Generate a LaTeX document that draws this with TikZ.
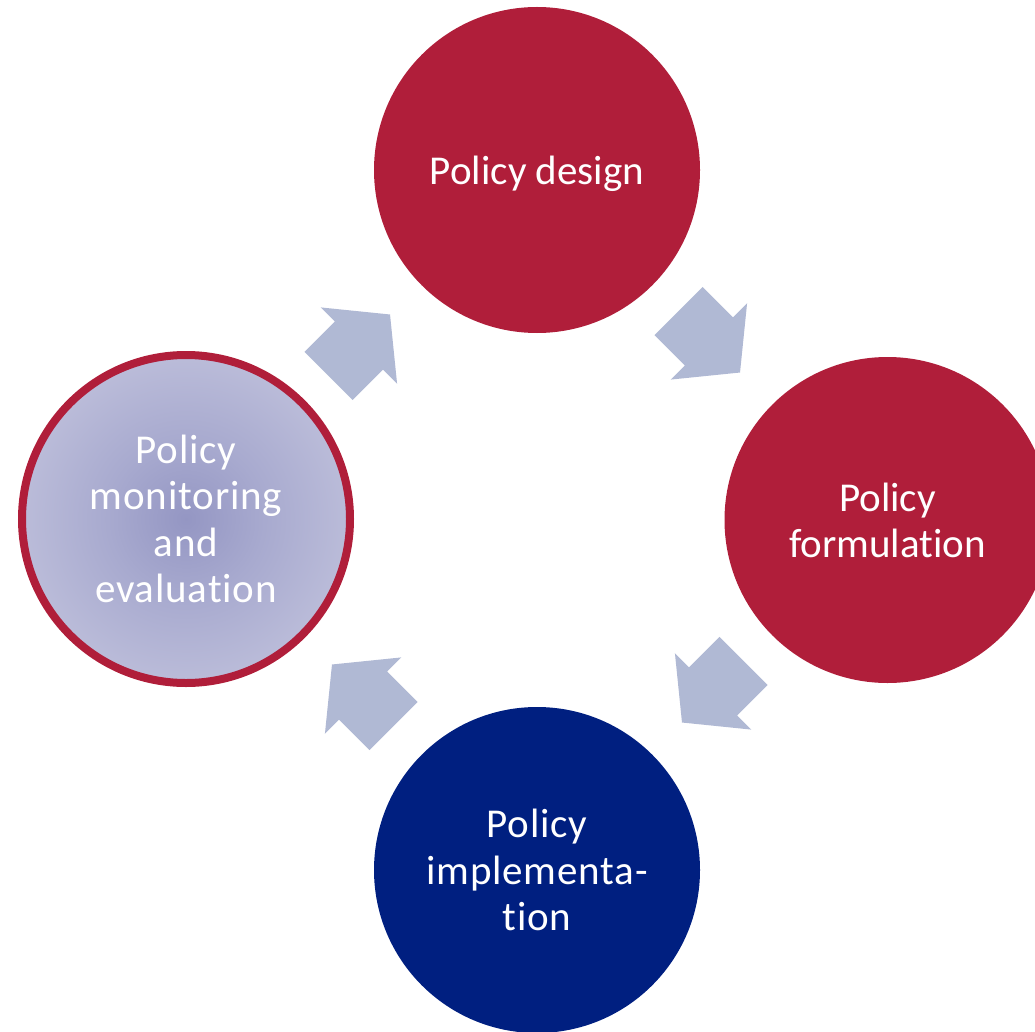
\documentclass[tikz,border=0pt]{standalone}
\usepackage{fontspec}
\setmainfont{Carlito}[Ligatures=NoCommon]
\newfontfamily\spacedfont{Carlito}[Ligatures=NoCommon,LetterSpace=2]
\definecolor{polred}{HTML}{B01E3A}
\definecolor{polnavy}{HTML}{001F80}
\definecolor{arrowblue}{HTML}{B0B9D4}
\definecolor{lvin}{HTML}{9496C3}
\definecolor{lvmida}{HTML}{A8AACF}
\definecolor{lvmidb}{HTML}{C2C3DD}
\definecolor{lvout}{HTML}{D3D4E8}
\pgfdeclareradialshading{lavglow}{\pgfpoint{0bp}{0bp}}{color(0bp)=(lvin); color(12bp)=(lvmida); color(30bp)=(lvmidb); color(50bp)=(lvout)}
\begin{document}
\begin{tikzpicture}[x=1pt,y=-1pt,
  stage/.style={circle, minimum size=326pt, inner sep=0pt, text=white, align=center,
    font=\fontsize{41}{46}\selectfont},
  spacedstage/.style={stage, font=\spacedfont\fontsize{41}{46.5}\selectfont},
  redstage/.style={stage, fill=polred},
  navystage/.style={spacedstage, fill=polnavy},
  lavstage/.style={spacedstage, minimum size=328pt, draw=polred, line width=8pt, shading=lavglow},
  blockarrow/.pic={\fill[arrowblue] (0,-34) -- (43,-34) -- (43,-54) -- (87,0) -- (43,54) -- (43,34) -- (0,34) -- cycle;}
]
\useasboundingbox (0,0) rectangle (1035,1032);
\clip (0,0) rectangle (1035,1032);
% block arrows
\pic[rotate=45] at (328.5,376) {blockarrow};
\pic[rotate=-45] at (678.5,311) {blockarrow};
\pic[rotate=-135] at (743.5,661) {blockarrow};
\pic[rotate=135] at (393.5,726) {blockarrow};
% stages
\node[redstage] (design) at (537,170) {\raisebox{0pt}[\height][0pt]{Policy design}};
\node[redstage] (formulation) at (887.5,520) {Policy\\formulation};
\node[navystage] (implementation) at (537,870) {Policy\\implementa-\\tion};
\node[lavstage] (monitoring) at (186,519) {Policy\\monitoring\\and\\evaluation};
\end{tikzpicture}
\end{document}
